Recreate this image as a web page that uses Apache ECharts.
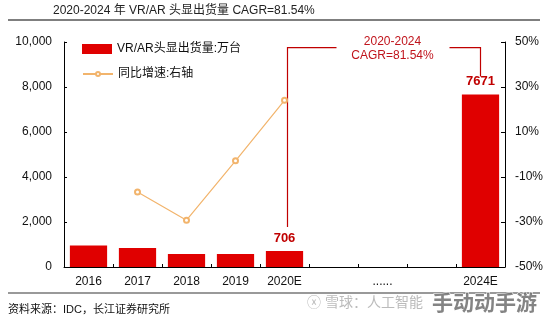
<!DOCTYPE html>
<html>
<head>
<meta charset="utf-8">
<script src="https://cdn.jsdelivr.net/npm/echarts@6/dist/echarts.min.js"></script>
<style>html,body{margin:0;padding:0;background:#fff;}#c{width:548px;height:322px;}</style>
</head>
<body>
<div id="c"></div>
<script>
const categories = ['2016', '2017', '2018', '2019', '2020E', '', '......', '', '2024E'];
const shipments = [960, 840, 580, 575, 706, null, null, null, 7671];
const growth = [null, -16.7, -29.2, -2.8, 24.1, null, null, null, null];
const labeledBars = [4, 8];
const leftTicks = { min: 0, max: 10000, interval: 2000 };
const rightTicks = { min: -50, max: 50, interval: 20 };
const titleText = '2020-2024 年 VR/AR 头显出货量 CAGR=81.54%';
const seriesNames = ['VR/AR头显出货量:万台', '同比增速:右轴'];
const cagrText = '2020-2024\nCAGR=81.54%';
const sourceText = '资料来源：IDC，长江证券研究所';

const FONT = '"Liberation Sans", Arial, "Noto Sans CJK SC", sans-serif';
const RED = '#E00000';
const DARKRED = '#C00000';
const ORANGE = '#F2B46C';

const chart = echarts.init(document.getElementById('c'), null, { renderer: 'canvas' });

const barData = shipments.map((v, i) => labeledBars.includes(i) ? {
  value: v,
  label: { show: true, position: 'top', distance: 6, color: DARKRED, fontWeight: 'bold', fontSize: 13, fontFamily: FONT }
} : v);

const legendText = { fontSize: 12, color: '#111', fontFamily: FONT };
const option = {
  animation: false,
  textStyle: { fontFamily: FONT },
  title: {
    text: titleText, left: 53, top: 5, padding: 0,
    textStyle: { fontSize: 12, fontWeight: 'normal', color: '#222', fontFamily: FONT }
  },
  legend: [
    {
      left: 82, top: 43, padding: 0, itemWidth: 30, itemHeight: 10, itemGap: 4,
      textStyle: legendText,
      data: [{ name: seriesNames[0], icon: 'rect' }]
    },
    {
      left: 82, top: 68, padding: 0, itemWidth: 30, itemHeight: 5, itemGap: 4,
      textStyle: legendText,
      data: [{ name: seriesNames[1] }]
    }
  ],
  grid: { left: 64, right: 43, top: 42, bottom: 55, containLabel: false },
  xAxis: {
    type: 'category', data: categories, boundaryGap: true,
    axisLine: { lineStyle: { color: '#000', width: 1 } },
    axisTick: { show: true, inside: true, length: 3, alignWithLabel: false, interval: 0, lineStyle: { color: '#000' } },
    axisLabel: { interval: 0, color: '#111', fontSize: 12, margin: 9, fontFamily: FONT }
  },
  yAxis: [
    {
      type: 'value', min: leftTicks.min, max: leftTicks.max, interval: leftTicks.interval,
      axisLine: { show: true, lineStyle: { color: '#000' } },
      axisTick: { show: true, inside: true, length: 3, lineStyle: { color: '#000' } },
      splitLine: { show: false },
      axisLabel: { color: '#111', fontSize: 12, margin: 12, fontFamily: FONT,
        formatter: v => v.toLocaleString('en-US') }
    },
    {
      type: 'value', min: rightTicks.min, max: rightTicks.max, interval: rightTicks.interval,
      position: 'right',
      axisLine: { show: true, lineStyle: { color: '#000' } },
      axisTick: { show: true, inside: true, length: 4, lineStyle: { color: '#000' } },
      splitLine: { show: false },
      axisLabel: { color: '#111', fontSize: 12, margin: 10, fontFamily: FONT, formatter: v => v + '%' }
    }
  ],
  series: [
    {
      name: seriesNames[0], type: 'bar', data: barData, yAxisIndex: 0,
      barWidth: '76%', itemStyle: { color: RED }
    },
    {
      name: seriesNames[1], type: 'line', data: growth, yAxisIndex: 1,
      symbol: 'emptyCircle', symbolSize: 5, connectNulls: false,
      lineStyle: { color: ORANGE, width: 1.2 },
      itemStyle: { color: ORANGE, borderWidth: 1 }
    }
  ]
};
chart.setOption(option);

// annotation bracket positioned from data via axis scales
const i0 = 4, i1 = 8;
const p0 = chart.convertToPixel({ xAxisIndex: 0, yAxisIndex: 0 }, [categories[i0], shipments[i0]]);
const p1 = chart.convertToPixel({ xAxisIndex: 0, yAxisIndex: 0 }, [categories[i1], shipments[i1]]);
const topY = chart.convertToPixel({ yAxisIndex: 0 }, 9750);
const x0 = p0[0] + 3, x1 = p1[0];
const textX = x0 + 105;
chart.setOption({
  graphic: [
    { type: 'line', shape: { x1: 8, y1: 20, x2: 540, y2: 20 }, style: { stroke: '#555', lineWidth: 1.5 } },
    { type: 'line', shape: { x1: 8, y1: 293, x2: 540, y2: 293 }, style: { stroke: '#777', lineWidth: 1.5 } },
    { type: 'text', left: 8, top: 304, style: { text: sourceText, fontSize: 11, fill: '#111', fontFamily: FONT } },
    { type: 'polyline', shape: { points: [[x0, p0[1] - 24], [x0, topY], [textX - 56, topY]] }, style: { stroke: DARKRED, lineWidth: 1.2, fill: null } },
    { type: 'polyline', shape: { points: [[textX + 57, topY], [x1, topY], [x1, p1[1] - 18]] }, style: { stroke: DARKRED, lineWidth: 1.2, fill: null } },
    { type: 'text', x: textX, y: topY - 13, style: { text: cagrText, fontSize: 12, fill: '#C0141C', align: 'center', lineHeight: 14, fontFamily: FONT } },
    { type: 'text', x: 307, y: 296, style: { text: 'ⓧ 雪球：人工智能', fontSize: 14, fill: 'rgba(170,170,170,0.8)', fontFamily: FONT } },
    { type: 'text', x: 432, y: 292, style: { text: '手动动手游', fontSize: 21, fontWeight: 'bold', fill: 'rgba(110,110,110,0.85)', stroke: '#fff', lineWidth: 1, fontFamily: '"Noto Sans CJK SC", sans-serif' } }
  ]
});
</script>
</body>
</html>
